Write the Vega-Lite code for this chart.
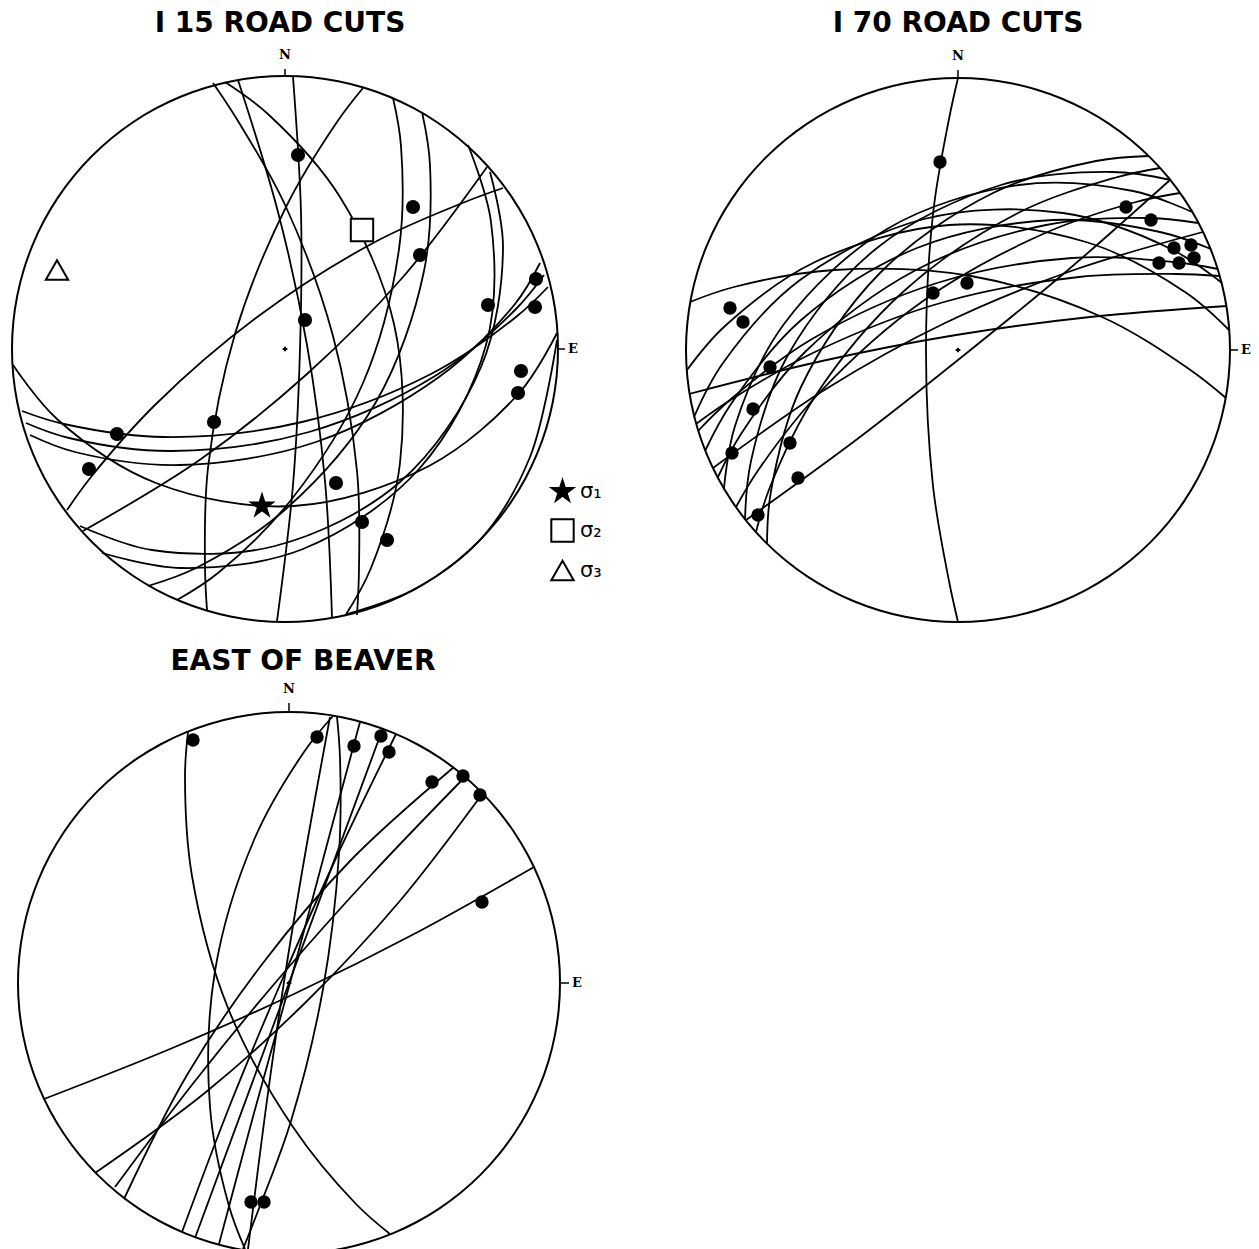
{
 "$schema": "https://vega.github.io/schema/vega-lite/v6.json",
 "width": 1259,
 "height": 1249,
 "autosize": {"type": "fit", "contains": "padding"},
 "padding": 0,
 "config": {"view": {"stroke": null}},
 "datasets": {
  "ctr": [{"x": 0, "y": 0}],
  "ann_t": [{"x": 0, "y": 272, "x2": 0, "y2": 280}, {"x": 272, "y": 0, "x2": 280, "y2": 0}],
  "ann_l": [{"t": "N", "x": 0, "y": 294}, {"t": "E", "x": 288, "y": 0}],
  "t1": [{"t": "I 15 ROAD CUTS", "x": -5, "y": 325}],
  "t2": [{"t": "I 70 ROAD CUTS", "x": 0, "y": 326}],
  "t3": [{"t": "EAST OF BEAVER", "x": 14, "y": 321}],
  "p1sig": [{"m": "σ₁", "x": -23, "y": -157}, {"m": "σ₂", "x": 77, "y": 119}, {"m": "σ₃", "x": -228, "y": 79}],
  "p1arcs": [
   {"g":1,"i":0,"x":8,"y":272},{"g":1,"i":1,"x":16,"y":136},{"g":1,"i":2,"x":15,"y":0},{"g":1,"i":3,"x":8,"y":-136},{"g":1,"i":4,"x":-8,"y":-272},
   {"g":2,"i":0,"x":-47,"y":269},{"g":2,"i":1,"x":-7,"y":137},{"g":2,"i":2,"x":22,"y":4},{"g":2,"i":3,"x":40,"y":-132},{"g":2,"i":4,"x":47,"y":-269},
   {"g":3,"i":0,"x":-72,"y":266},{"g":3,"i":1,"x":-47,"y":228},{"g":3,"i":2,"x":1,"y":142},{"g":3,"i":3,"x":48,"y":13},{"g":3,"i":4,"x":72,"y":-122},{"g":3,"i":5,"x":74,"y":-220},{"g":3,"i":6,"x":72,"y":-266},
   {"g":4,"i":0,"x":-60,"y":267},{"g":4,"i":1,"x":-16,"y":234},{"g":4,"i":2,"x":55,"y":152},{"g":4,"i":3,"x":109,"y":25},{"g":4,"i":4,"x":115,"y":-114},{"g":4,"i":5,"x":86,"y":-219},{"g":4,"i":6,"x":60,"y":-267},
   {"g":5,"i":0,"x":78,"y":261},{"g":5,"i":1,"x":52,"y":227},{"g":5,"i":2,"x":1,"y":142},{"g":5,"i":3,"x":-50,"y":15},{"g":5,"i":4,"x":-77,"y":-119},{"g":5,"i":5,"x":-80,"y":-218},{"g":5,"i":6,"x":-78,"y":-261},
   {"g":6,"i":0,"x":108,"y":251},{"g":6,"i":1,"x":116,"y":203},{"g":6,"i":2,"x":114,"y":100},{"g":6,"i":3,"x":78,"y":-34},{"g":6,"i":4,"x":6,"y":-151},{"g":6,"i":5,"x":-67,"y":-224},{"g":6,"i":6,"x":-108,"y":-251},
   {"g":7,"i":0,"x":137,"y":237},{"g":7,"i":1,"x":145,"y":184},{"g":7,"i":2,"x":139,"y":78},{"g":7,"i":3,"x":91,"y":-53},{"g":7,"i":4,"x":2,"y":-159},{"g":7,"i":5,"x":-87,"y":-218},{"g":7,"i":6,"x":-137,"y":-237},
   {"g":8,"i":0,"x":183,"y":204},{"g":8,"i":1,"x":206,"y":127},{"g":8,"i":2,"x":201,"y":4},{"g":8,"i":3,"x":134,"y":-120},{"g":8,"i":4,"x":18,"y":-200},{"g":8,"i":5,"x":-104,"y":-219},{"g":8,"i":6,"x":-183,"y":-204},
   {"g":9,"i":0,"x":202,"y":182},{"g":9,"i":1,"x":118,"y":72},{"g":9,"i":2,"x":22,"y":-25},{"g":9,"i":3,"x":-84,"y":-110},{"g":9,"i":4,"x":-202,"y":-182},
   {"g":10,"i":0,"x":205,"y":177},{"g":10,"i":1,"x":218,"y":102},{"g":10,"i":2,"x":196,"y":-18},{"g":10,"i":3,"x":115,"y":-133},{"g":10,"i":4,"x":-10,"y":-197},{"g":10,"i":5,"x":-133,"y":-201},{"g":10,"i":6,"x":-205,"y":-177},
   {"g":11,"i":0,"x":218,"y":161},{"g":11,"i":1,"x":180,"y":147},{"g":11,"i":2,"x":90,"y":107},{"g":11,"i":3,"x":-25,"y":34},{"g":11,"i":4,"x":-129,"y":-55},{"g":11,"i":5,"x":-194,"y":-128},{"g":11,"i":6,"x":-218,"y":-161},
   {"g":12,"i":0,"x":255,"y":86},{"g":12,"i":1,"x":230,"y":45},{"g":12,"i":2,"x":154,"y":-28},{"g":12,"i":3,"x":31,"y":-93},{"g":12,"i":4,"x":-105,"y":-116},{"g":12,"i":5,"x":-210,"y":-103},{"g":12,"i":6,"x":-255,"y":-86},
   {"g":13,"i":0,"x":259,"y":74},{"g":13,"i":1,"x":230,"y":39},{"g":13,"i":2,"x":150,"y":-27},{"g":13,"i":3,"x":24,"y":-83},{"g":13,"i":4,"x":-113,"y":-102},{"g":13,"i":5,"x":-216,"y":-89},{"g":13,"i":6,"x":-259,"y":-74},
   {"g":14,"i":0,"x":263,"y":62},{"g":14,"i":1,"x":231,"y":32},{"g":14,"i":2,"x":146,"y":-25},{"g":14,"i":3,"x":17,"y":-73},{"g":14,"i":4,"x":-120,"y":-88},{"g":14,"i":5,"x":-221,"y":-75},{"g":14,"i":6,"x":-263,"y":-62},
   {"g":15,"i":0,"x":272,"y":16},{"g":15,"i":1,"x":235,"y":-43},{"g":15,"i":2,"x":144,"y":-117},{"g":15,"i":3,"x":9,"y":-157},{"g":15,"i":4,"x":-129,"y":-134},{"g":15,"i":5,"x":-228,"y":-70},{"g":15,"i":6,"x":-272,"y":-16},
   {"g":16,"i":0,"x":272,"y":9},{"g":16,"i":1,"x":245,"y":-108},{"g":16,"i":2,"x":195,"y":-191},{"g":16,"i":3,"x":128,"y":-241},{"g":16,"i":4,"x":62,"y":-265}
  ],
  "p1dots": [
   {"x":13,"y":194},{"x":128,"y":142},{"x":135,"y":94},{"x":20,"y":29},{"x":203,"y":44},{"x":251,"y":70},{"x":250,"y":42},{"x":236,"y":-22},{"x":233,"y":-44},{"x":-71,"y":-73},{"x":-168,"y":-85},{"x":-196,"y":-120},{"x":51,"y":-134},{"x":77,"y":-173},{"x":102,"y":-191}
  ],
  "p2arcs": [
   {"g":1,"i":0,"x":0,"y":272},{"g":1,"i":1,"x":-9,"y":231},{"g":1,"i":2,"x":-25,"y":136},{"g":1,"i":3,"x":-32,"y":0},{"g":1,"i":4,"x":-25,"y":-136},{"g":1,"i":5,"x":-9,"y":-231},{"g":1,"i":6,"x":0,"y":-272},
   {"g":2,"i":0,"x":268,"y":-48},{"g":2,"i":1,"x":231,"y":-19},{"g":2,"i":2,"x":144,"y":33},{"g":2,"i":3,"x":13,"y":74},{"g":2,"i":4,"x":-124,"y":80},{"g":2,"i":5,"x":-224,"y":63},{"g":2,"i":6,"x":-268,"y":48},
   {"g":3,"i":0,"x":191,"y":194},{"g":3,"i":1,"x":138,"y":189},{"g":3,"i":2,"x":35,"y":157},{"g":3,"i":3,"x":-78,"y":77},{"g":3,"i":4,"x":-157,"y":-37},{"g":3,"i":5,"x":-187,"y":-141},{"g":3,"i":6,"x":-191,"y":-194},
   {"g":4,"i":0,"x":213,"y":170},{"g":4,"i":1,"x":154,"y":178},{"g":4,"i":2,"x":43,"y":165},{"g":4,"i":3,"x":-81,"y":102},{"g":4,"i":4,"x":-170,"y":-5},{"g":4,"i":5,"x":-207,"y":-111},{"g":4,"i":6,"x":-213,"y":-170},
   {"g":5,"i":0,"x":222,"y":157},{"g":5,"i":1,"x":178,"y":148},{"g":5,"i":2,"x":85,"y":116},{"g":5,"i":3,"x":-35,"y":49},{"g":5,"i":4,"x":-137,"y":-41},{"g":5,"i":5,"x":-199,"y":-119},{"g":5,"i":6,"x":-222,"y":-157},
   {"g":6,"i":0,"x":234,"y":138},{"g":6,"i":1,"x":175,"y":159},{"g":6,"i":2,"x":61,"y":165},{"g":6,"i":3,"x":-71,"y":121},{"g":6,"i":4,"x":-174,"y":26},{"g":6,"i":5,"x":-223,"y":-76},{"g":6,"i":6,"x":-234,"y":-138},
   {"g":7,"i":0,"x":245,"y":118},{"g":7,"i":1,"x":113,"y":79},{"g":7,"i":2,"x":-13,"y":27},{"g":7,"i":3,"x":-132,"y":-39},{"g":7,"i":4,"x":-245,"y":-118},
   {"g":8,"i":0,"x":253,"y":101},{"g":8,"i":1,"x":202,"y":118},{"g":8,"i":2,"x":95,"y":130},{"g":8,"i":3,"x":-41,"y":102},{"g":8,"i":4,"x":-158,"y":29},{"g":8,"i":5,"x":-227,"y":-54},{"g":8,"i":6,"x":-253,"y":-101},
   {"g":9,"i":0,"x":260,"y":81},{"g":9,"i":1,"x":215,"y":88},{"g":9,"i":2,"x":114,"y":92},{"g":9,"i":3,"x":-21,"y":67},{"g":9,"i":4,"x":-146,"y":11},{"g":9,"i":5,"x":-227,"y":-49},{"g":9,"i":6,"x":-260,"y":-81},
   {"g":10,"i":0,"x":264,"y":67},{"g":10,"i":1,"x":213,"y":101},{"g":10,"i":2,"x":105,"y":137},{"g":10,"i":3,"x":-34,"y":131},{"g":10,"i":4,"x":-158,"y":70},{"g":10,"i":5,"x":-235,"y":-13},{"g":10,"i":6,"x":-264,"y":-67},
   {"g":11,"i":0,"x":269,"y":44},{"g":11,"i":1,"x":132,"y":33},{"g":11,"i":2,"x":-2,"y":15},{"g":11,"i":3,"x":-136,"y":-11},{"g":11,"i":4,"x":-269,"y":-44},
   {"g":12,"i":0,"x":271,"y":20},{"g":12,"i":1,"x":227,"y":58},{"g":12,"i":2,"x":128,"y":108},{"g":12,"i":3,"x":-9,"y":125},{"g":12,"i":4,"x":-143,"y":88},{"g":12,"i":5,"x":-233,"y":24},{"g":12,"i":6,"x":-271,"y":-20},
   {"g":13,"i":0,"x":212,"y":170},{"g":13,"i":1,"x":110,"y":80},{"g":13,"i":2,"x":5,"y":-6},{"g":13,"i":3,"x":-102,"y":-90},{"g":13,"i":4,"x":-212,"y":-170},
   {"g":14,"i":0,"x":202,"y":182},{"g":14,"i":1,"x":156,"y":172},{"g":14,"i":2,"x":60,"y":137},{"g":14,"i":3,"x":-54,"y":59},{"g":14,"i":4,"x":-142,"y":-45},{"g":14,"i":5,"x":-188,"y":-137},{"g":14,"i":6,"x":-202,"y":-182},
   {"g":15,"i":0,"x":240,"y":127},{"g":15,"i":1,"x":192,"y":132},{"g":15,"i":2,"x":88,"y":125},{"g":15,"i":3,"x":-42,"y":80},{"g":15,"i":4,"x":-153,"y":-2},{"g":15,"i":5,"x":-217,"y":-84},{"g":15,"i":6,"x":-240,"y":-127},
   {"g":16,"i":0,"x":262,"y":74},{"g":16,"i":1,"x":218,"y":76},{"g":16,"i":2,"x":121,"y":73},{"g":16,"i":3,"x":-14,"y":48},{"g":16,"i":4,"x":-141,"y":-1},{"g":16,"i":5,"x":-226,"y":-49},{"g":16,"i":6,"x":-262,"y":-74}
  ],
  "p2dots": [
   {"x":-18,"y":188},{"x":168,"y":143},{"x":193,"y":130},{"x":216,"y":102},{"x":233,"y":105},{"x":221,"y":87},{"x":201,"y":87},{"x":236,"y":92},{"x":9,"y":67},{"x":-25,"y":57},{"x":-228,"y":42},{"x":-215,"y":28},{"x":-188,"y":-17},{"x":-205,"y":-59},{"x":-226,"y":-103},{"x":-168,"y":-93},{"x":-160,"y":-128},{"x":-200,"y":-165}
  ],
  "p3arcs": [
   {"g":1,"i":0,"x":-101,"y":251},{"g":1,"i":1,"x":-104,"y":206},{"g":1,"i":2,"x":-97,"y":107},{"g":1,"i":3,"x":-61,"y":-25},{"g":1,"i":4,"x":4,"y":-144},{"g":1,"i":5,"x":67,"y":-221},{"g":1,"i":6,"x":101,"y":-251},
   {"g":2,"i":0,"x":44,"y":267},{"g":2,"i":1,"x":15,"y":231},{"g":2,"i":2,"x":-35,"y":143},{"g":2,"i":3,"x":-74,"y":12},{"g":2,"i":4,"x":-79,"y":-124},{"g":2,"i":5,"x":-60,"y":-223},{"g":2,"i":6,"x":-44,"y":-266},
   {"g":3,"i":0,"x":41,"y":266},{"g":3,"i":1,"x":17,"y":134},{"g":3,"i":2,"x":-5,"y":1},{"g":3,"i":3,"x":-24,"y":-132},{"g":3,"i":4,"x":-41,"y":-266},
   {"g":4,"i":0,"x":48,"y":266},{"g":4,"i":1,"x":51,"y":225},{"g":4,"i":2,"x":50,"y":129},{"g":4,"i":3,"x":34,"y":-6},{"g":4,"i":4,"x":2,"y":-138},{"g":4,"i":5,"x":-31,"y":-228},{"g":4,"i":6,"x":-46,"y":-266},
   {"g":5,"i":0,"x":71,"y":261},{"g":5,"i":1,"x":36,"y":131},{"g":5,"i":2,"x":1,"y":0},{"g":5,"i":3,"x":-35,"y":-130},{"g":5,"i":4,"x":-70,"y":-261},
   {"g":6,"i":0,"x":94,"y":255},{"g":6,"i":1,"x":0,"y":0},{"g":6,"i":2,"x":-94,"y":-255},
   {"g":7,"i":0,"x":107,"y":249},{"g":7,"i":1,"x":48,"y":127},{"g":7,"i":2,"x":-7,"y":3},{"g":7,"i":3,"x":-59,"y":-122},{"g":7,"i":4,"x":-107,"y":-249},
   {"g":8,"i":0,"x":165,"y":216},{"g":8,"i":1,"x":62,"y":123},{"g":8,"i":2,"x":-26,"y":20},{"g":8,"i":3,"x":-102,"y":-92},{"g":8,"i":4,"x":-165,"y":-216},
   {"g":9,"i":0,"x":245,"y":116},{"g":9,"i":1,"x":127,"y":50},{"g":9,"i":2,"x":5,"y":-11},{"g":9,"i":3,"x":-119,"y":-66},{"g":9,"i":4,"x":-245,"y":-116},
   {"g":10,"i":0,"x":174,"y":204},{"g":10,"i":1,"x":82,"y":108},{"g":10,"i":2,"x":-8,"y":7},{"g":10,"i":3,"x":-94,"y":-98},{"g":10,"i":4,"x":-174,"y":-204},
   {"g":11,"i":0,"x":194,"y":190},{"g":11,"i":1,"x":110,"y":81},{"g":11,"i":2,"x":18,"y":-18},{"g":11,"i":3,"x":-83,"y":-109},{"g":11,"i":4,"x":-194,"y":-190}
  ],
  "p3dots": [
   {"x":-96,"y":243},{"x":28,"y":246},{"x":65,"y":237},{"x":92,"y":247},{"x":100,"y":231},{"x":143,"y":201},{"x":174,"y":207},{"x":191,"y":188},{"x":193,"y":81},{"x":-38,"y":-219},{"x":-25,"y":-219}
  ]
 },
 "resolve": {"scale": {"x": "independent", "y": "independent"}},
 "layer": [
  {
   "encoding": {
    "x": {"field": "x", "type": "quantitative", "scale": {"domain": [-285, 974], "nice": false, "zero": false}, "axis": null},
    "y": {"field": "y", "type": "quantitative", "scale": {"domain": [-900, 349], "nice": false, "zero": false}, "axis": null}
   },
   "layer": [
    {"data": {"name": "ctr"}, "mark": {"type": "arc", "outerRadius": 274, "innerRadius": 272, "theta": 0, "theta2": 6.2832, "color": "black"}},
    {"data": {"name": "ctr"}, "mark": {"type": "point", "shape": "cross", "size": 22, "filled": true, "color": "black", "opacity": 1}},
    {"data": {"name": "ann_t"}, "mark": {"type": "rule", "color": "black", "strokeWidth": 1.5}, "encoding": {"x2": {"field": "x2"}, "y2": {"field": "y2"}}},
    {"data": {"name": "ann_l"}, "mark": {"type": "text", "font": "DejaVu Serif", "fontWeight": "bold", "fontSize": 13, "color": "black", "baseline": "middle", "align": "center"}, "encoding": {"text": {"field": "t"}}},
    {"data": {"name": "t1"}, "mark": {"type": "text", "font": "DejaVu Sans", "fontWeight": "bold", "fontSize": 28, "color": "black", "baseline": "middle", "align": "center"}, "encoding": {"text": {"field": "t"}}},
    {"data": {"name": "p1arcs"}, "mark": {"type": "line", "interpolate": "catmull-rom", "color": "black", "strokeWidth": 1.8}, "encoding": {"detail": {"field": "g", "type": "nominal"}, "order": {"field": "i", "type": "quantitative"}}},
    {"data": {"name": "p1dots"}, "mark": {"type": "point", "shape": "circle", "filled": true, "color": "black", "size": 200, "opacity": 1}},
    {"data": {"name": "p1sig"}, "mark": {"type": "point", "filled": true, "strokeWidth": 2, "size": 500, "opacity": 1},
     "encoding": {
      "shape": {"field": "m", "type": "nominal",
        "scale": {"domain": ["σ₁", "σ₂", "σ₃"], "range": ["M0,-1L0.2245,-0.309L0.951,-0.309L0.363,0.118L0.588,0.809L0,0.382L-0.588,0.809L-0.363,0.118L-0.951,-0.309L-0.2245,-0.309Z", "square", "triangle-up"]},
        "legend": {"orient": "none", "legendX": 550, "legendY": 479, "padding": 0, "title": null, "labelFont": "DejaVu Sans", "labelFontSize": 21, "labelColor": "black", "symbolSize": 500, "symbolStrokeWidth": 2, "rowPadding": 10, "labelOffset": 5}},
      "fill": {"field": "m", "type": "nominal",
        "scale": {"domain": ["σ₁", "σ₂", "σ₃"], "range": ["black", "white", "white"]},
        "legend": {"orient": "none", "legendX": 550, "legendY": 479, "padding": 0, "title": null, "labelFont": "DejaVu Sans", "labelFontSize": 21, "labelColor": "black", "symbolSize": 500, "symbolStrokeWidth": 2, "rowPadding": 10, "labelOffset": 5}},
      "stroke": {"field": "m", "type": "nominal",
        "scale": {"domain": ["σ₁", "σ₂", "σ₃"], "range": ["black", "black", "black"]},
        "legend": {"orient": "none", "legendX": 550, "legendY": 479, "padding": 0, "title": null, "labelFont": "DejaVu Sans", "labelFontSize": 21, "labelColor": "black", "symbolSize": 500, "symbolStrokeWidth": 2, "rowPadding": 10, "labelOffset": 5}}
     }}
   ]
  },
  {
   "encoding": {
    "x": {"field": "x", "type": "quantitative", "scale": {"domain": [-958, 301], "nice": false, "zero": false}, "axis": null},
    "y": {"field": "y", "type": "quantitative", "scale": {"domain": [-899, 350], "nice": false, "zero": false}, "axis": null}
   },
   "layer": [
    {"data": {"name": "ctr"}, "mark": {"type": "arc", "outerRadius": 273, "innerRadius": 271, "theta": 0, "theta2": 6.2832, "color": "black"}},
    {"data": {"name": "ctr"}, "mark": {"type": "point", "shape": "cross", "size": 22, "filled": true, "color": "black", "opacity": 1}},
    {"data": {"name": "ann_t"}, "mark": {"type": "rule", "color": "black", "strokeWidth": 1.5}, "encoding": {"x2": {"field": "x2"}, "y2": {"field": "y2"}}},
    {"data": {"name": "ann_l"}, "mark": {"type": "text", "font": "DejaVu Serif", "fontWeight": "bold", "fontSize": 13, "color": "black", "baseline": "middle", "align": "center"}, "encoding": {"text": {"field": "t"}}},
    {"data": {"name": "t2"}, "mark": {"type": "text", "font": "DejaVu Sans", "fontWeight": "bold", "fontSize": 28, "color": "black", "baseline": "middle", "align": "center"}, "encoding": {"text": {"field": "t"}}},
    {"data": {"name": "p2arcs"}, "mark": {"type": "line", "interpolate": "catmull-rom", "color": "black", "strokeWidth": 1.8}, "encoding": {"detail": {"field": "g", "type": "nominal"}, "order": {"field": "i", "type": "quantitative"}}},
    {"data": {"name": "p2dots"}, "mark": {"type": "point", "shape": "circle", "filled": true, "color": "black", "size": 180, "opacity": 1}}
   ]
  },
  {
   "encoding": {
    "x": {"field": "x", "type": "quantitative", "scale": {"domain": [-289, 970], "nice": false, "zero": false}, "axis": null},
    "y": {"field": "y", "type": "quantitative", "scale": {"domain": [-266, 983], "nice": false, "zero": false}, "axis": null}
   },
   "layer": [
    {"data": {"name": "ctr"}, "mark": {"type": "arc", "outerRadius": 272, "innerRadius": 270, "theta": 0, "theta2": 6.2832, "color": "black", "clip": true}},
    {"data": {"name": "ctr"}, "mark": {"type": "point", "shape": "cross", "size": 22, "filled": true, "color": "black", "opacity": 1}},
    {"data": {"name": "ann_t"}, "mark": {"type": "rule", "color": "black", "strokeWidth": 1.5}, "encoding": {"x2": {"field": "x2"}, "y2": {"field": "y2"}}},
    {"data": {"name": "ann_l"}, "mark": {"type": "text", "font": "DejaVu Serif", "fontWeight": "bold", "fontSize": 13, "color": "black", "baseline": "middle", "align": "center"}, "encoding": {"text": {"field": "t"}}},
    {"data": {"name": "t3"}, "mark": {"type": "text", "font": "DejaVu Sans", "fontWeight": "bold", "fontSize": 28, "color": "black", "baseline": "middle", "align": "center"}, "encoding": {"text": {"field": "t"}}},
    {"data": {"name": "p3arcs"}, "mark": {"type": "line", "interpolate": "catmull-rom", "color": "black", "strokeWidth": 1.8, "clip": true}, "encoding": {"detail": {"field": "g", "type": "nominal"}, "order": {"field": "i", "type": "quantitative"}}},
    {"data": {"name": "p3dots"}, "mark": {"type": "point", "shape": "circle", "filled": true, "color": "black", "size": 180, "opacity": 1}}
   ]
  }
 ]
}
